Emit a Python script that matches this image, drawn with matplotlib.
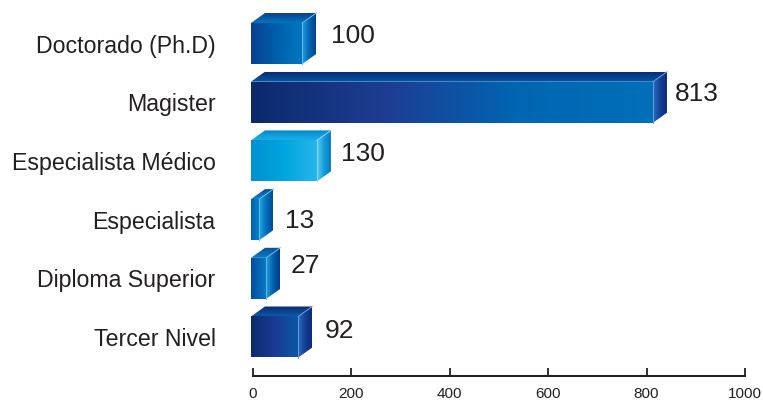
import matplotlib
matplotlib.use('Agg')
import matplotlib.pyplot as plt
import numpy as np
from matplotlib.colors import LinearSegmentedColormap
from matplotlib.patches import Polygon

plt.rcParams['font.family'] = ['Liberation Sans', 'DejaVu Sans']

# data
categories = ['Doctorado (Ph.D)', 'Magister', 'Especialista Médico',
              'Especialista', 'Diploma Superior', 'Tercer Nivel']
values = [100, 813, 130, 13, 27, 92]
ticks = [0, 200, 400, 600, 800, 1000]

# colours of each bar: front, side, top
front_colors = [
    ['#07408f', '#0060ac', '#0077c0'],
    ['#0b2a6c', '#1d3d92', '#0066b3', '#006fb9'],
    ['#0090d2', '#00a5e0', '#27b6ea'],
    ['#0062ae', '#0a85cc'],
    ['#004f9f', '#0a7cc4'],
    ['#0b2a6e', '#1a3c92', '#0a58a8'],
]
side_colors = [
    ['#2b9fe0', '#0068b3', '#0a3f8c'],
    ['#2a6cc0', '#123f96', '#0e2a74'],
    ['#5cc8f0', '#0f9bd9', '#0b74bd'],
    ['#27a6e4', '#0072bd', '#04498f'],
    ['#2a9ee0', '#0062ae', '#0a3a86'],
    ['#2a70c0', '#123f96', '#0e2a74'],
]
top_colors = [
    ['#0a3f8c', '#0078c0'],
    ['#0d2a72', '#0058a8'],
    ['#0088cc', '#1bb0e8'],
    ['#0a4c9a', '#0a86cc'],
    ['#0a4c9a', '#0a7cc4'],
    ['#0d2a72', '#0a58a8'],
]
edge_colors = ['#5cb8ec', '#6c9ad8', '#8ad8f6', '#5cc0f0', '#5cb8ec', '#6c9ad8']
# label offsets in pixels, after the end of the bar
label_dx = [15, 8, 10, 12, 10, 12]
label_dy = [7.5, 8, 7, -1, 12, 6]

fig = plt.figure(figsize=(7.63, 4.0), dpi=100)
W, H = 763, 400
ax = fig.add_axes([253 / W, 1 - 376 / H, (745 - 253) / W, 376 / H])
ax.set_xlim(0, 1000)
y0, step = 43.5, 58.7
ax.set_ylim((376 - y0) / step, -y0 / step)

px = 1000 / (745 - 253)
dx, dy = 14 * px, 10 / step
half = 20.5 / step
left = -2 * px


def fill(poly, colors, vertical=False):
    cmap = LinearSegmentedColormap.from_list('c', colors)
    grad = np.linspace(0, 1, 256).reshape(-1, 1) if vertical else np.linspace(0, 1, 256).reshape(1, -1)
    xs = [p[0] for p in poly]
    ys = [p[1] for p in poly]
    # y runs downwards on this axis
    im = ax.imshow(grad, cmap=cmap, aspect='auto', interpolation='bilinear',
                   extent=[min(xs), max(xs), max(ys), min(ys)], zorder=2)
    patch = Polygon(poly, closed=True, transform=ax.transData, fc='none', ec='none')
    ax.add_patch(patch)
    im.set_clip_box(fig.bbox)
    im.set_clip_path(patch)


for i, v in enumerate(values):
    r = v * 1.0
    t, b = i - half, i + half
    fill([(left, t), (r, t), (r, b), (left, b)], front_colors[i])
    fill([(r, t), (r + dx, t - dy), (r + dx, b - dy), (r, b)], side_colors[i])
    fill([(left, t), (left + dx, t - dy), (r + dx, t - dy), (r, t)], top_colors[i], vertical=True)
    # light edges round the front corner
    ax.plot([r, r], [t, b], color=edge_colors[i], lw=0.7, zorder=3, clip_on=False)
    ax.plot([r, r + dx], [t, t - dy], color=edge_colors[i], lw=0.7, zorder=3, clip_on=False)
    ax.annotate(str(v), xy=(r + dx, i), xytext=(label_dx[i] * 0.72, label_dy[i] * 0.72),
                textcoords='offset points', fontsize=19, color='#231f20',
                ha='left', va='center')

ax.set_xlim(0, 1000)
ax.set_ylim((376 - y0) / step, -y0 / step)

for s in ['top', 'left', 'right']:
    ax.spines[s].set_visible(False)
ax.spines['bottom'].set_linewidth(1.5)
ax.spines['bottom'].set_color('#231f20')
ax.patch.set_alpha(0)

ax.set_xticks(ticks)
ax.tick_params(axis='x', direction='in', length=6, width=1.3, color='#231f20',
               labelsize=11, labelcolor='#231f20', pad=8)
ax.set_yticks(range(len(categories)))
ax.set_yticklabels(categories)
ax.tick_params(axis='y', length=0, labelsize=16.7, labelcolor='#231f20', pad=27)

fig.savefig('out.png', dpi=100)
